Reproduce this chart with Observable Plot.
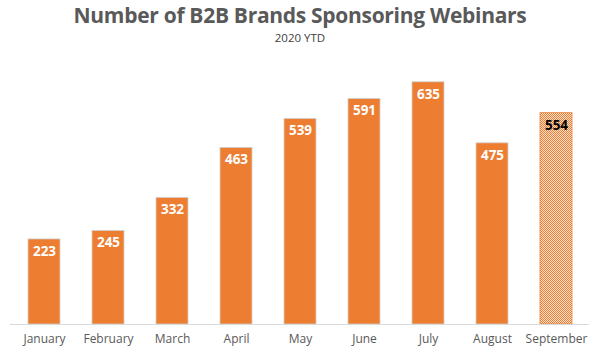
<!DOCTYPE html>
<html><head><meta charset="utf-8">
<script src="https://cdn.jsdelivr.net/npm/d3@7"></script>
<script src="https://cdn.jsdelivr.net/npm/@observablehq/plot@0.6"></script>
<style>
body{margin:0;background:#fff;font-family:"Open Sans",sans-serif;}
#title{height:30px;line-height:30px;text-align:center;font-size:21px;font-weight:bold;color:#595959;letter-spacing:-0.3px;}
#sub{height:18px;line-height:16px;text-align:center;font-size:11.5px;color:#404040;}
</style></head><body>
<div id="title">Number of B2B Brands Sponsoring Webinars</div>
<div id="sub">2020 YTD</div>
<div id="chart"></div>
<script>
const months = ["January","February","March","April","May","June","July","August","September"];
const values = [223,245,332,463,539,591,635,475,554];
const partial = [false,false,false,false,false,false,false,false,true];
const data = months.map((m,i)=>({month:m,value:values[i],partial:partial[i]}));

const chart = Plot.plot({
  width:600, height:309,
  marginTop:9, marginBottom:33, marginLeft:10, marginRight:11,
  style:{fontFamily:"Open Sans, sans-serif", fontSize:"12px", color:"#595959"},
  x:{domain:months, paddingInner:0.5, paddingOuter:0.25, label:null, tickSize:0, tickPadding:10},
  y:{domain:[0,700], axis:null},
  marks:[
    Plot.barY(data,{x:"month", y:"value", fill:d=>d.partial?"url(#chk)":"#ED7D31", stroke:d=>d.partial?"#ED7D31":"#cfcfcf", strokeWidth:0.8}),
    Plot.ruleY([0],{stroke:"#d9d9d9", strokeWidth:1.2}),
    Plot.text(data,{x:"month", y:"value", text:d=>String(d.value), dy:12, fill:d=>d.partial?"#000":"#fff", fontWeight:"bold", fontSize:13.5})
  ]
});
const ns="http://www.w3.org/2000/svg";
const defs=document.createElementNS(ns,"defs");
defs.innerHTML='<pattern id="chk" width="2" height="2" patternUnits="userSpaceOnUse"><rect width="2" height="2" fill="#FBE3D3"/><rect width="1" height="1" fill="#ED7D31"/><rect x="1" y="1" width="1" height="1" fill="#ED7D31"/></pattern>';
chart.insertBefore(defs, chart.firstChild);
document.getElementById("chart").appendChild(chart);
</script>
</body></html>
